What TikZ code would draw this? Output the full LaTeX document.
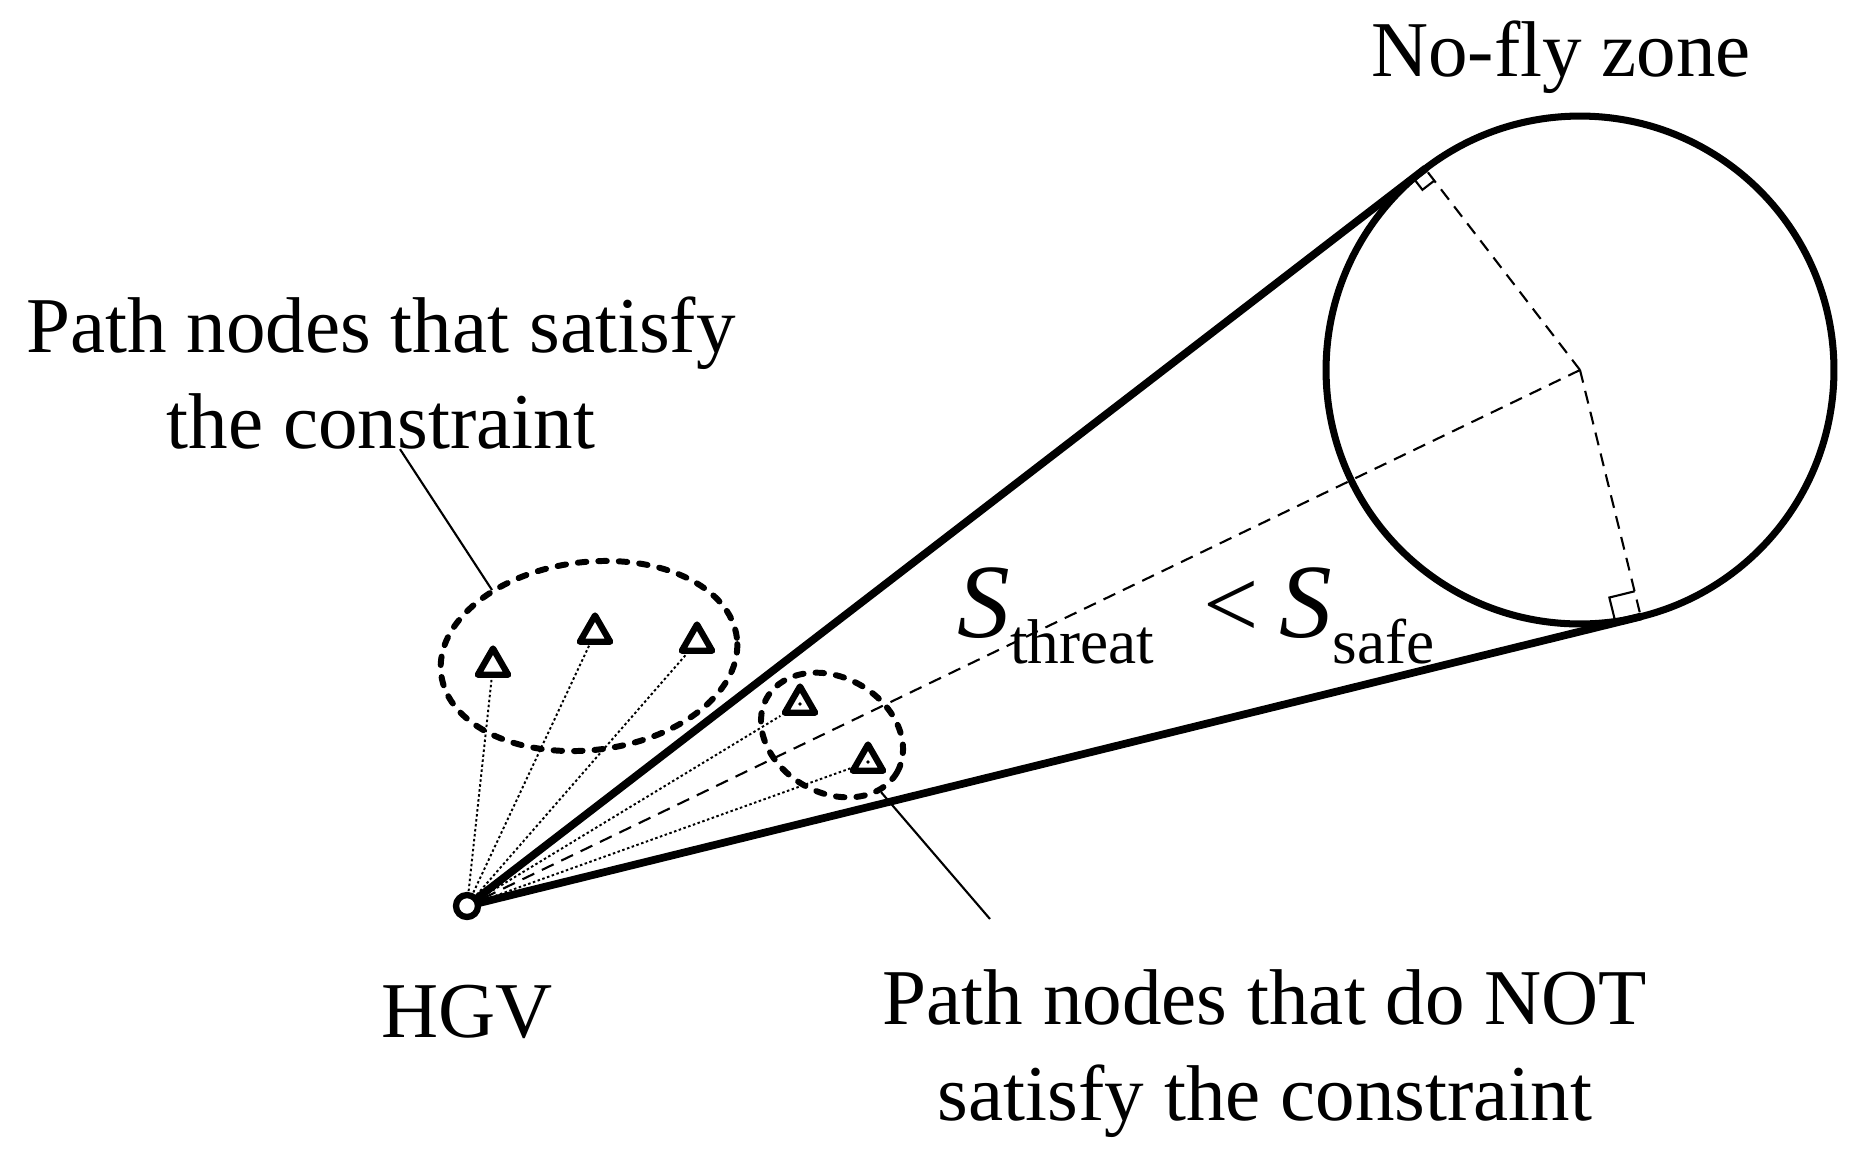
\documentclass[tikz,border=0pt]{standalone}
\usepackage{fontspec}
\setmainfont{Liberation Serif}
\usetikzlibrary{shapes.geometric, positioning, calc}

\begin{document}
\begin{tikzpicture}[
    x=0.02cm, y=-0.02cm,
    lbl/.style={font=\fontsize{45}{54.6}\selectfont, align=center, inner sep=0pt},
    edge/.style={line width=4.4pt, line cap=round},
    radial/.style={line width=1.2pt, dash pattern=on 0.26cm off 0.17cm},
    sight/.style={line width=1.1pt, dash pattern=on 0.05cm off 0.05cm},
    group/.style={ellipse, draw, line width=3.4pt, line cap=round,
        dash pattern=on 0.17cm off 0.24cm, inner sep=0pt},
    leader/.style={line width=1.2pt},
    pathnode/.style={regular polygon, regular polygon sides=3, draw,
        line width=3.6pt, line join=round, minimum size=0.7cm,
        inner sep=0pt, fill=white},
    hgvmark/.style={circle, draw, line width=3.6pt, fill=white,
        minimum size=0.44cm, inner sep=0pt},
    zonestyle/.style={circle, draw, line width=4pt, minimum size=10.16cm,
        inner sep=0pt, outer sep=0pt}
]
\useasboundingbox (0,0) rectangle (1859,1161);

% ===================================================================
% NO-FLY ZONE
% ===================================================================
\coordinate (hgv) at (467,906);
\node[zonestyle] (zone) at (1580,370) {};
\node[lbl, anchor=base] (zonetxt) at (1561,76) {No-fly zone};

\coordinate (t1) at (tangent cs:node=zone, point={(hgv)}, solution=1);
\coordinate (t2) at (tangent cs:node=zone, point={(hgv)}, solution=2);

\draw[edge] (hgv) -- (t1);
\draw[edge] (hgv) -- (t2);
\draw[radial] (zone.center) -- (t1);
\draw[radial] (zone.center) -- (t2);
\draw[radial] (zone.center) -- (hgv);

% right-angle marks
\coordinate (a1) at ($(t1)!0.52cm!(hgv)$);
\coordinate (b1) at ($(t1)!0.52cm!(zone.center)$);
\draw[line width=1.2pt] (a1) -- ($(a1)+(b1)-(t1)$) -- (b1);
\coordinate (a2) at ($(t2)!0.3cm!(hgv)$);
\coordinate (b2) at ($(t2)!0.3cm!(zone.center)$);
\draw[line width=1.2pt] (a2) -- ($(a2)+(b2)-(t2)$) -- (b2);

\node[anchor=base west, inner sep=0pt] (cond) at (957,637)
    {{\fontsize{60}{60}\selectfont\textit{S}}%
     \raisebox{-15pt}{\fontsize{36}{36}\selectfont threat}%
     \hspace{28pt}{\fontsize{56}{56}\selectfont <}\hspace{12pt}%
     {\fontsize{60}{60}\selectfont\textit{S}}%
     \raisebox{-15pt}{\fontsize{36}{36}\selectfont safe}};

% ===================================================================
% PATH NODES
% ===================================================================
\node[pathnode] (n1) at (493,666) {};
\node[pathnode] (n2) at (595,633) {};
\node[pathnode] (n3) at (697,642) {};
\node[pathnode] (n4) at (800,704) {};
\node[pathnode] (n5) at (868,762) {};
\fill (n4) circle (1.8);
\fill (n5) circle (1.8);

\foreach \n in {n1,n2,n3,n4,n5}
    \draw[sight] (hgv) -- (\n);

\node[group, minimum width=5.96cm, minimum height=3.76cm, rotate=7]
    (grpok) at (589,656) {};
\node[group, minimum width=3.0cm, minimum height=2.3cm, rotate=-30]
    (grpbad) at (832,735) {};

% ===================================================================
% LABELS
% ===================================================================
\node[lbl, anchor=base] (oktxt) at (381,448)
    {Path nodes that satisfy\\the constraint};
\coordinate (okhook) at (492,590);
\draw[leader] ([xshift=0.38cm]oktxt.south) -- (okhook);

\node[lbl, anchor=base] (badtxt) at (1265,1120)
    {Path nodes that do NOT\\satisfy the constraint};
\coordinate (badfoot) at (990,919);
\draw[leader] (grpbad) -- (badfoot);

\node[hgvmark] (hgvdot) at (hgv) {};
\node[lbl, below=1.3cm of hgvdot] (hgvtxt) {HGV};

\end{tikzpicture}
\end{document}
